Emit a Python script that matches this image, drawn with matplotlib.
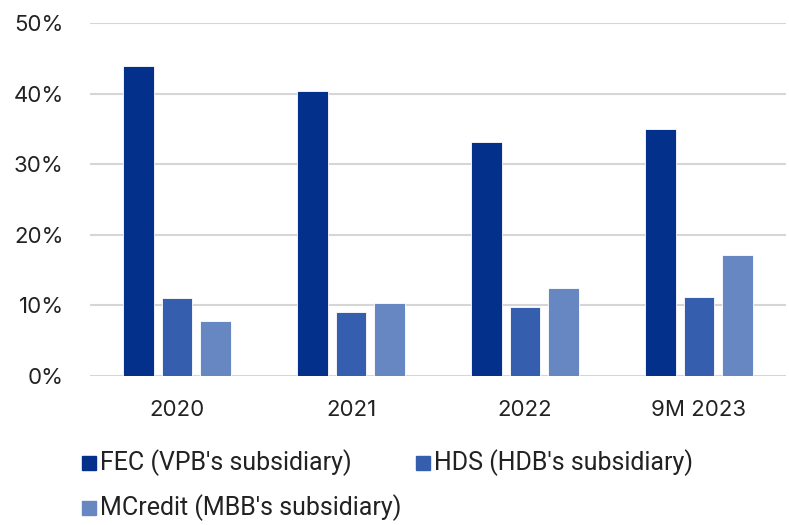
import matplotlib
matplotlib.use("Agg")
import matplotlib.pyplot as plt
import numpy as np
from matplotlib.patches import Rectangle

categories = ["2020", "2021", "2022", "9M 2023"]
fec = [43.9, 40.4, 33.1, 35.0]
hds = [11.0, 9.1, 9.8, 11.2]
mcredit = [7.8, 10.3, 12.5, 17.2]
series_names = ["FEC (VPB's subsidiary)", "HDS (HDB's subsidiary)", "MCredit (MBB's subsidiary)"]
colors = ["#03308A", "#355FAE", "#6787C2"]

fig = plt.figure(figsize=(7.89, 5.25), dpi=100)
ax = fig.add_axes([90 / 789, 1 - 376 / 525, 696 / 789, 353 / 525])

x = np.arange(len(categories))
width = 0.178
step = 0.224
for i, vals in enumerate([fec, hds, mcredit]):
    ax.bar(x + (i - 1) * step, vals, width, color=colors[i], edgecolor="white", linewidth=0.6, zorder=3)

ax.set_xlim(-0.5, len(categories) - 0.5)
ax.set_ylim(0, 50)
ax.set_yticks(range(0, 51, 10))
ax.set_yticklabels([f"{v}%" for v in range(0, 51, 10)], fontsize=16, family="Inter", color="#222222")
ax.set_xticks(x)
ax.set_xticklabels(categories, fontsize=16, family="Inter", color="#222222")
ax.tick_params(length=0)
ax.tick_params(axis="y", pad=19)
ax.tick_params(axis="x", pad=17)
ax.grid(axis="y", color="#d6d6d6", linewidth=1.5, zorder=0)
for s in ax.spines.values():
    s.set_visible(False)

# legend drawn manually in figure coords
legend_pos = [(82, 463), (416, 463), (82, 508)]
for (px, py), name, c in zip(legend_pos, series_names, colors):
    fig.patches.append(Rectangle((px / 789, 1 - (py + 7) / 525), 14 / 789, 14 / 525,
                                 transform=fig.transFigure, color=c))
    fig.text((px + 18) / 789, 1 - py / 525, name, fontsize=18,
             family=["Roboto", "DejaVu Sans"], va="center", color="#222222")

fig.savefig("out.png", dpi=100)
